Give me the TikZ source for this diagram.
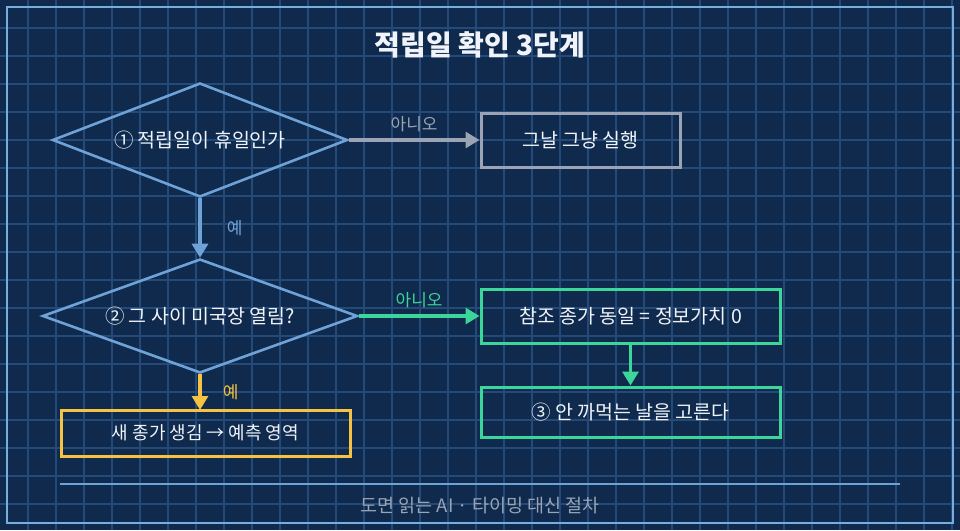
\documentclass[tikz,border=0pt]{standalone}
\usepackage{fontspec}
\setmainfont{Noto Sans CJK KR}
\usetikzlibrary{shapes.geometric,arrows.meta}
\definecolor{bg}{HTML}{0F2A4C}
\definecolor{gridc}{HTML}{234A78}
\definecolor{frame}{HTML}{78AEDF}
\definecolor{bl}{HTML}{6FA3D8}
\definecolor{gr}{HTML}{9AA4B4}
\definecolor{gn}{HTML}{3DD69A}
\definecolor{yl}{HTML}{F5C242}
\definecolor{tx}{HTML}{F0F4FA}
\begin{document}
\begin{tikzpicture}[x=1pt,y=-1pt,
  txt/.style={text=tx,font=\fontsize{19.5}{22}\selectfont},
  lbl/.style={font=\fontsize{17}{19}\selectfont},
  dia/.style={draw=bl,line width=2.6pt,diamond,aspect=2.6,inner sep=0pt,txt},
  box/.style={draw,line width=3pt,rectangle,inner sep=0pt,txt},
  arr/.style={line width=3.2pt,-{Triangle[length=14pt,width=16pt]}}]
\fill[bg] (0,0) rectangle (960,530);
\useasboundingbox (0,0) rectangle (960,530);
\foreach \i in {28,56,...,952} \draw[gridc,line width=1.3pt] (\i,0) -- (\i,530);
\foreach \j in {28,56,...,528} \draw[gridc,line width=1.3pt] (0,\j) -- (960,\j);
\draw[frame,line width=2pt] (7,7) rectangle (953,523);
\node[text=tx,font=\bfseries\fontsize{28}{30}\selectfont] (title) at (480,45) {적립일 확인 3단계};
\node[dia,minimum width=295pt,minimum height=114pt] (d1) at (200,140) {① 적립일이 휴일인가};
\node[box,draw=gr,minimum width=199pt,minimum height=54pt] (b1) at (580.5,140) {그날 그냥 실행};
\node[dia,minimum width=315pt,minimum height=114pt] (d2) at (200,316) {② 그 사이 미국장 열림?};
\node[box,draw=gn,minimum width=299pt,minimum height=54pt] (b2) at (630.5,316) {참조 종가 동일 = 정보가치 0};
\node[box,draw=gn,minimum width=299pt,minimum height=50pt] (b3) at (630.5,412) {③ 안 까먹는 날을 고른다};
\node[box,draw=yl,minimum width=289pt,minimum height=46pt,font=\fontsize{18}{20}\selectfont] (b4) at (205.5,433) {새 종가 생김 → 예측 영역};
\draw[arr,gr] (d1.east) -- (b1.west) node[midway,above=3pt,lbl,text=gr] (l1) {아니오};
\draw[arr,bl] (d1.south) -- (d2.north) node[midway,right=22pt,lbl,text=bl] (l2) {예};
\draw[arr,gn] (d2.east) -- (b2.west) node[midway,above=3pt,lbl,text=gn] (l3) {아니오};
\draw[arr,gn] (b2.south) -- (b3.north);
\coordinate (y4) at (200,410);
\draw[arr,yl] (d2.south) -- (y4) node[midway,right=18pt,lbl,text=yl] (l4) {예};
\draw[bl,line width=1.3pt] (60,484) -- (900,484);
\node[text=gr,font=\fontsize{18.5}{20}\selectfont] (foot) at (480,506) {도면 읽는 AI · 타이밍 대신 절차};
\end{tikzpicture}
\end{document}
